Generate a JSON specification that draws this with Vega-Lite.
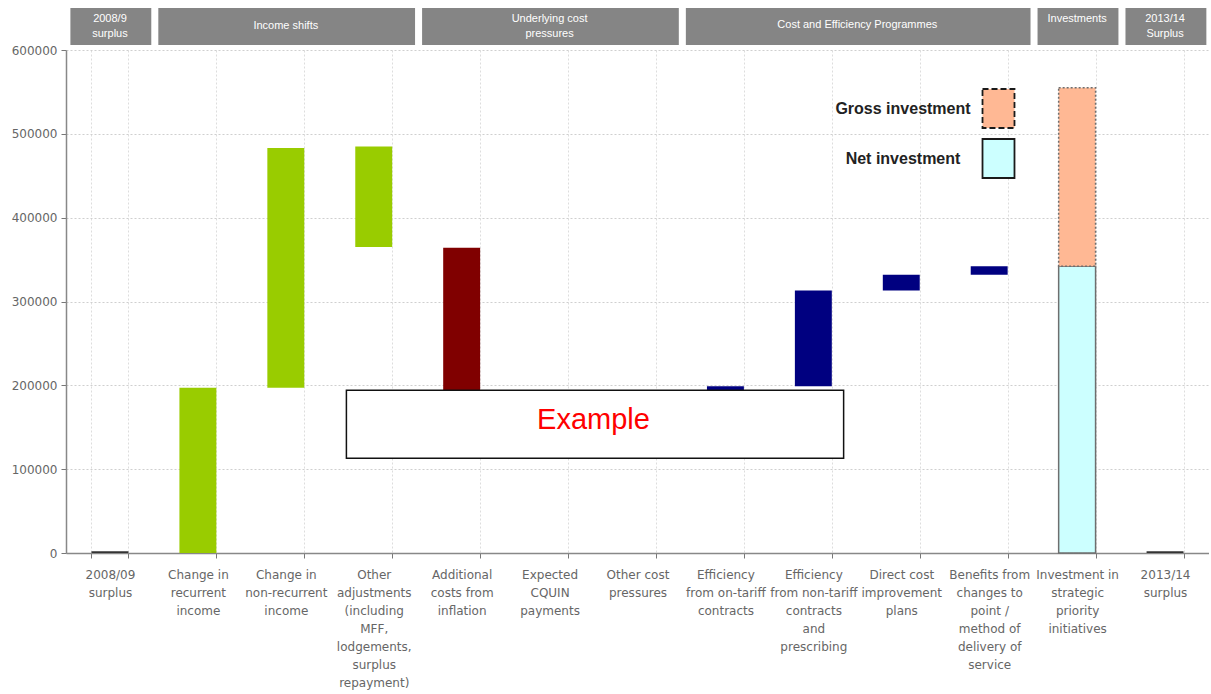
{
  "$schema": "https://vega.github.io/schema/vega-lite/v6.json",
  "background": "white",
  "padding": {"left": 11, "top": 8, "right": 0, "bottom": 12},
  "spacing": 5,
  "bounds": "flush",
  "config": {"view": {"stroke": null}, "font": "Liberation Sans"},
  "datasets": {
    "groups": [
      {"group": "2008/9\nsurplus", "first": "2008/09\nsurplus", "last": "2008/09\nsurplus", "centre": "2008/09\nsurplus"},
      {"group": "Income shifts", "first": "Change in\nrecurrent\nincome", "last": "Other\nadjustments\n(including\nMFF,\nlodgements,\nsurplus\nrepayment)", "centre": "Change in\nnon-recurrent\nincome"},
      {"group": "Underlying cost\npressures", "first": "Additional\ncosts from\ninflation", "last": "Other cost\npressures", "centre": "Expected\nCQUIN\npayments"},
      {"group": "Cost and Efficiency Programmes", "first": "Efficiency\nfrom on-tariff\ncontracts", "last": "Benefits from\nchanges to\npoint /\nmethod of\ndelivery of\nservice", "centre": "Efficiency\nfrom non-tariff\ncontracts\nand\nprescribing"},
      {"group": "Investments\n", "first": "Investment in\nstrategic\npriority\ninitiatives", "last": "Investment in\nstrategic\npriority\ninitiatives", "centre": "Investment in\nstrategic\npriority\ninitiatives"},
      {"group": "2013/14\nSurplus", "first": "2013/14\nsurplus", "last": "2013/14\nsurplus", "centre": "2013/14\nsurplus"}
    ],
    "steps": [
      {"step": "2008/09\nsurplus", "kind": "surplus", "start": 0, "end": 2000},
      {"step": "Change in\nrecurrent\nincome", "kind": "income", "start": 0, "end": 197000},
      {"step": "Change in\nnon-recurrent\nincome", "kind": "income", "start": 197000, "end": 483000},
      {"step": "Other\nadjustments\n(including\nMFF,\nlodgements,\nsurplus\nrepayment)", "kind": "income", "start": 485000, "end": 365000},
      {"step": "Additional\ncosts from\ninflation", "kind": "pressure", "start": 364000, "end": 180000},
      {"step": "Expected\nCQUIN\npayments", "kind": "pressure", "start": 180000, "end": 165000},
      {"step": "Other cost\npressures", "kind": "pressure", "start": 165000, "end": 150000},
      {"step": "Efficiency\nfrom on-tariff\ncontracts", "kind": "efficiency", "start": 150000, "end": 199000},
      {"step": "Efficiency\nfrom non-tariff\ncontracts\nand\nprescribing", "kind": "efficiency", "start": 199000, "end": 313000},
      {"step": "Direct cost\nimprovement\nplans", "kind": "efficiency", "start": 313000, "end": 332000},
      {"step": "Benefits from\nchanges to\npoint /\nmethod of\ndelivery of\nservice", "kind": "efficiency", "start": 332000, "end": 342000},
      {"step": "2013/14\nsurplus", "kind": "surplus", "start": 0, "end": 2000}
    ],
    "investment": [
      {"step": "Investment in\nstrategic\npriority\ninitiatives", "kind": "Net investment", "start": 0, "end": 342000},
      {"step": "Investment in\nstrategic\npriority\ninitiatives", "kind": "Gross investment", "start": 342000, "end": 555000}
    ],
    "notes": [
      {"note": "Example", "from": "Other\nadjustments\n(including\nMFF,\nlodgements,\nsurplus\nrepayment)", "to": "Efficiency\nfrom non-tariff\ncontracts\nand\nprescribing", "centre": "Expected\nCQUIN\npayments", "top": 194000, "bottom": 113000}
    ]
  },
  "vconcat": [
    {
      "width": 1143,
      "height": 37,
      "data": {"name": "groups"},
      "encoding": {
        "x": {
          "field": "first", "type": "nominal",
          "scale": {
            "domain": ["2008/09\nsurplus", "Change in\nrecurrent\nincome", "Change in\nnon-recurrent\nincome", "Other\nadjustments\n(including\nMFF,\nlodgements,\nsurplus\nrepayment)", "Additional\ncosts from\ninflation", "Expected\nCQUIN\npayments", "Other cost\npressures", "Efficiency\nfrom on-tariff\ncontracts", "Efficiency\nfrom non-tariff\ncontracts\nand\nprescribing", "Direct cost\nimprovement\nplans", "Benefits from\nchanges to\npoint /\nmethod of\ndelivery of\nservice", "Investment in\nstrategic\npriority\ninitiatives", "2013/14\nsurplus"],
            "paddingInner": 0, "paddingOuter": 0
          },
          "axis": null
        }
      },
      "layer": [
        {
          "mark": {"type": "rect", "color": "#858585"},
          "encoding": {
            "x": {"field": "first", "type": "nominal", "bandPosition": 0.05},
            "x2": {"field": "last", "bandPosition": 0.97}
          }
        },
        {
          "transform": [{"filter": "datum.group !== 'Cost and Efficiency Programmes' && indexof(datum.group, '\\n') >= 0"}],
          "mark": {"type": "text", "color": "white", "fontSize": 11, "lineBreak": "\n", "lineHeight": 15, "baseline": "middle", "dy": -8},
          "encoding": {
            "x": {"field": "centre", "type": "nominal", "bandPosition": 0.5},
            "text": {"field": "group"}
          }
        },
        {
          "transform": [{"filter": "datum.group !== 'Cost and Efficiency Programmes' && indexof(datum.group, '\\n') < 0"}],
          "mark": {"type": "text", "color": "white", "fontSize": 11, "baseline": "middle", "dy": -1},
          "encoding": {
            "x": {"field": "centre", "type": "nominal", "bandPosition": 0.5},
            "text": {"field": "group"}
          }
        },
        {
          "transform": [{"filter": "datum.group === 'Cost and Efficiency Programmes'"}],
          "mark": {"type": "text", "color": "white", "fontSize": 11, "baseline": "middle", "dy": -2},
          "encoding": {
            "x": {"field": "centre", "type": "nominal", "bandPosition": 1},
            "text": {"field": "group"}
          }
        }
      ]
    },
    {
      "width": 1143,
      "height": 503,
      "encoding": {
        "x": {
          "field": "step", "type": "nominal", "title": null,
          "scale": {
            "domain": ["2008/09\nsurplus", "Change in\nrecurrent\nincome", "Change in\nnon-recurrent\nincome", "Other\nadjustments\n(including\nMFF,\nlodgements,\nsurplus\nrepayment)", "Additional\ncosts from\ninflation", "Expected\nCQUIN\npayments", "Other cost\npressures", "Efficiency\nfrom on-tariff\ncontracts", "Efficiency\nfrom non-tariff\ncontracts\nand\nprescribing", "Direct cost\nimprovement\nplans", "Benefits from\nchanges to\npoint /\nmethod of\ndelivery of\nservice", "Investment in\nstrategic\npriority\ninitiatives", "2013/14\nsurplus"],
            "paddingInner": 0.58, "paddingOuter": 0.29
          },
          "axis": {
            "tickBand": "extent",
            "labelExpr": "split(datum.label, '\\n')",
            "labelFont": "DejaVu Sans", "labelFontSize": 12, "labelColor": "#666666",
            "labelLineHeight": 18, "labelBaseline": "top", "labelPadding": 11,
            "labelAngle": 0, "labelOverlap": false, "labelLimit": 0, "labelBound": false,
            "tickSize": 5, "tickColor": "#777777",
            "domainColor": "#888888", "domainWidth": 1.5,
            "grid": true, "gridColor": "#dddddd", "gridDash": [2, 2]
          }
        },
        "y": {
          "field": "start", "type": "quantitative", "title": null,
          "scale": {"domain": [0, 600000]},
          "axis": {
            "values": [0, 100000, 200000, 300000, 400000, 500000, 600000],
            "format": "d",
            "labelFont": "DejaVu Sans", "labelFontSize": 12, "labelColor": "#666666",
            "labelPadding": 4, "tickSize": 5, "tickColor": "#777777",
            "domainColor": "#888888", "domainWidth": 1.5,
            "grid": true, "gridColor": "#cfcfcf", "gridDash": [2, 2]
          }
        },
        "y2": {"field": "end"}
      },
      "layer": [
        {
          "data": {"name": "steps"},
          "mark": {"type": "bar"},
          "encoding": {
            "fill": {
              "field": "kind", "type": "nominal",
              "scale": {
                "domain": ["surplus", "income", "pressure", "efficiency", "Gross investment", "Net investment"],
                "range": ["#333333", "#99cc00", "#800000", "#000080", "#ffb894", "#ccffff"]
              },
              "legend": {
                "values": ["Gross investment", "Net investment"],
                "title": null, "orient": "none", "legendX": 912, "legendY": 80,
                "padding": 0, "rowPadding": 3,
                "symbolType": "M-0.82,-1H0.82V1H-0.82Z", "symbolSize": 1521,
                "symbolStrokeColor": "#1a1a1a", "symbolStrokeWidth": 1.8,
                "labelFont": "Liberation Sans", "labelFontWeight": "bold", "labelFontSize": 16,
                "labelColor": "#222222", "labelAlign": "center", "labelOffset": -116, "labelLimit": 0,
                "encode": {"symbols": {"update": {"strokeDash": {"signal": "datum.value === 'Gross investment' ? [6, 3] : [1, 0]"}}}}
              }
            }
          }
        },
        {
          "data": {"name": "investment"},
          "mark": {"type": "bar", "stroke": "#6e6e6e", "strokeWidth": 1.5},
          "encoding": {
            "fill": {"field": "kind", "type": "nominal"},
            "strokeDash": {"condition": {"test": "datum.kind === 'Gross investment'", "value": [2, 2]}, "value": [1, 0]}
          }
        },
        {
          "data": {"name": "notes"},
          "mark": {"type": "rect", "fill": "white", "stroke": "#111111", "strokeWidth": 1.5},
          "encoding": {
            "x": {"field": "from", "type": "nominal", "bandPosition": -0.24},
            "x2": {"field": "to", "bandPosition": 1.32},
            "y": {"field": "top", "type": "quantitative"},
            "y2": {"field": "bottom"}
          }
        },
        {
          "data": {"name": "notes"},
          "mark": {"type": "text", "color": "#ff0000", "fontSize": 29, "baseline": "middle", "dy": 30},
          "encoding": {
            "x": {"field": "centre", "type": "nominal", "bandPosition": 1.69},
            "y": {"field": "top", "type": "quantitative"},
            "y2": null,
            "text": {"field": "note"}
          }
        }
      ]
    }
  ]
}
